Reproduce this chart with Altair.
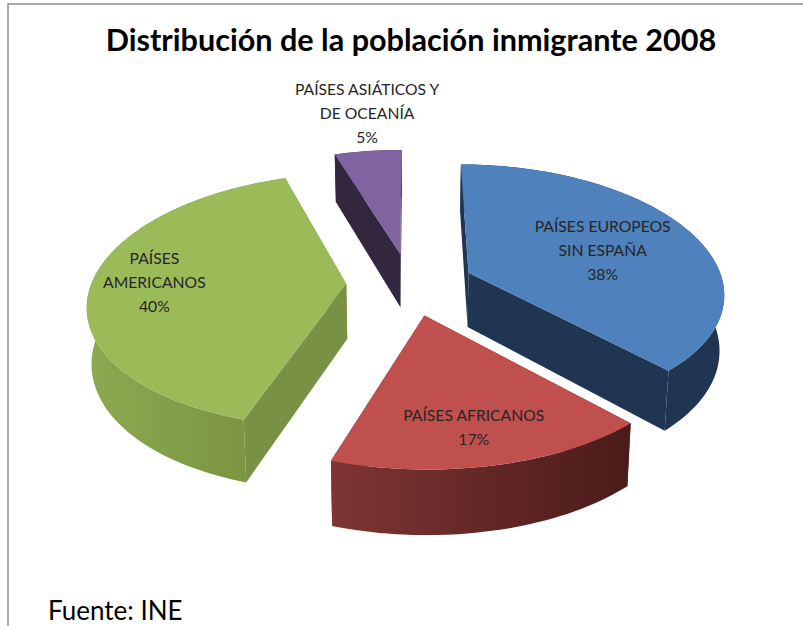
import math
import altair as alt

# Population shares by origin, in pie order starting at twelve o'clock.
categories = ["PAÍSES EUROPEOS\nSIN ESPAÑA", "PAÍSES AFRICANOS", "PAÍSES\nAMERICANOS",
              "PAÍSES ASIÁTICOS Y\nDE OCEANÍA"]
shares = [38, 17, 40, 5]
top_colors = ["#4F81BD", "#C0504D", "#9BBB59", "#8064A2"]
side_colors = ["#1F3552", "#7A3331", "#789144", "#33263F"]
rim_stops = [["#1F3552", "#1F3552"], ["#7E3533", "#4A1B1A"], ["#8CA950", "#77903F"], ["#33263F", "#33263F"]]
TITLE = "Distribución de la población inmigrante 2008"
SOURCE = "Fuente: INE"

# Perspective model of the tilted, exploded pie.
CX, CY, RX, RY = 410, 284, 255, 125
KX, KY = 0.15, 0.13
EXPLODE = 0.25
DEPTH = 55
WALL_TAPER = 0.985
FONT = "Lato"
LABEL_SIZE, LINE_HEIGHT = 15.7, 24
# Radial reach of each label along its slice's bisector, then a small pixel nudge.
LABEL_PLACEMENT = [(0.61, -2, 5), (0.77, -3, 1), (0.78, 7, -1), (1.40, 10, -2)]


def project(gx, gy, drop=False):
    sx = CX + RX * gx / (1 - KX * gy)
    py = 1 / (1 - KY * gy)
    sy = CY + RY * gy * py
    if drop:
        sx = CX + (sx - CX) * WALL_TAPER
        sy += DEPTH * py
    return [sx, sy]


def polygon_layer(ring, fill):
    feature = {"type": "Feature", "properties": {},
               "geometry": {"type": "Polygon", "coordinates": [ring + [ring[0]]]}}
    return alt.Chart(alt.Data(values=[feature])).mark_geoshape(fill=fill, stroke=None)


back, front, texts = [], [], []
start = 0.0
for i, share in enumerate(shares):
    a0, a1 = start, start + share * 3.6
    start = a1
    mid = math.radians((a0 + a1) / 2)
    ox, oy = EXPLODE * math.sin(mid), -EXPLODE * math.cos(mid)
    steps = max(4, int((a1 - a0) / 1.5))
    angles = [math.radians(a0 + (a1 - a0) * s / steps) for s in range(steps + 1)]
    rim = [(ox + math.sin(a), oy - math.cos(a)) for a in angles]

    top_rim = [project(*g) for g in rim]
    low_rim = [project(*g, drop=True) for g in rim]
    apex, low_apex = project(ox, oy), project(ox, oy, drop=True)

    # Walls are painted first, then the slice's upper face covers what lies behind it.
    gradient = alt.Gradient(gradient="linear", x1=0, x2=1, y1=0, y2=0,
                            stops=[alt.GradientStop(color=rim_stops[i][0], offset=0),
                                   alt.GradientStop(color=rim_stops[i][1], offset=1)])
    back.append(polygon_layer([apex, low_apex, low_rim[0], top_rim[0]], side_colors[i]))
    back.append(polygon_layer([apex, low_apex, low_rim[-1], top_rim[-1]], side_colors[i]))
    back.append(polygon_layer(top_rim + low_rim[::-1], gradient))
    front.append(polygon_layer([apex] + top_rim, top_colors[i]))

    reach, nudge_x, nudge_y = LABEL_PLACEMENT[i]
    lx, ly = project(ox + reach * math.sin(mid), oy - reach * math.cos(mid))
    text = f"{categories[i]}\n{share}%"
    # The first line sits on the anchor, so lift the block to centre it there.
    ly -= LINE_HEIGHT * text.count("\n") / 2
    texts.append({"lon": lx + nudge_x, "lat": ly + nudge_y, "label": text})

frame = alt.Chart(alt.Data(values=[{
    "type": "Feature", "properties": {},
    "geometry": {"type": "LineString", "coordinates": [[8, 626], [8, 4], [803, 4]]}}])
).mark_geoshape(filled=False, stroke="#8C8C8C", strokeWidth=1.5)

labels = alt.Chart(alt.Data(values=texts)).mark_text(
    font=FONT, fontSize=LABEL_SIZE, lineHeight=LINE_HEIGHT, color="#262626", lineBreak="\n", baseline="middle"
).encode(longitude="lon:Q", latitude="lat:Q", text="label:N")

title = alt.Chart(alt.Data(values=[{"lon": 411, "lat": 42, "label": TITLE}])).mark_text(
    font=FONT, fontSize=30.6, fontWeight="bold", color="#000000", baseline="middle"
).encode(longitude="lon:Q", latitude="lat:Q", text="label:N")

source = alt.Chart(alt.Data(values=[{"lon": 48, "lat": 612, "label": SOURCE}])).mark_text(
    font=FONT, fontSize=26, color="#000000", align="left", baseline="middle"
).encode(longitude="lon:Q", latitude="lat:Q", text="label:N")

chart = alt.layer(frame, *back, *front, labels, title, source).properties(
    width=803, height=626,
    padding=0,
    autosize=alt.AutoSizeParams(type="none"),
    background="white",
    projection=alt.Projection(type="identity", scale=1, translate=[0, 0]),
).configure_view(stroke=None)

chart.save("out.html", embed_options={"renderer": "svg", "actions": False})
